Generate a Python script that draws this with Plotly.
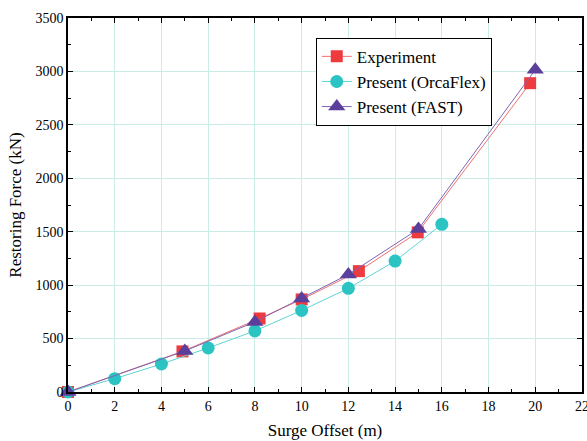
import plotly.graph_objects as go

exp_x = [0, 4.9, 8.2, 10.0, 12.45, 14.97, 19.78]
exp_y = [0, 380, 688, 866, 1131, 1494, 2890]

orca_x = [0, 2, 4, 6, 8, 10, 12, 14, 16]
orca_y = [0, 125, 262, 412, 572, 763, 970, 1225, 1569]

fast_x = [0, 5, 8, 10, 12, 15, 20]
fast_y = [0, 384, 656, 875, 1100, 1525, 3015]

red = "#ee3b3f"
teal = "#2cc3c3"
purple = "#5a3f9c"

fig = go.Figure()
fig.add_trace(go.Scatter(x=exp_x, y=exp_y, name="Experiment", mode="lines+markers",
                         line=dict(color="#f07070", width=1),
                         marker=dict(symbol="square", size=12, color=red),
                         cliponaxis=False))
fig.add_trace(go.Scatter(x=orca_x, y=orca_y, name="Present (OrcaFlex)", mode="lines+markers",
                         line=dict(color="#5fd3d3", width=1),
                         marker=dict(symbol="circle", size=13, color=teal),
                         cliponaxis=False))
fig.add_trace(go.Scatter(x=fast_x, y=fast_y, name="Present (FAST)", mode="lines+markers",
                         line=dict(color="#7d66b4", width=1),
                         marker=dict(symbol="triangle-up", size=15, color=purple),
                         cliponaxis=False))

font_family = "Liberation Serif"
axis_common = dict(
    showline=True, linecolor="black", linewidth=1.5, mirror="allticks",
    ticks="inside", ticklen=5, tickwidth=1.2, tickcolor="black",
    showgrid=True, gridcolor="#c9ece6", gridwidth=1, zeroline=False,
    tickfont=dict(family=font_family, size=14, color="black"),
    automargin=False, ticklabeloverflow="allow",
)
fig.update_xaxes(range=[0, 22], dtick=2, tick0=0,
                 minor=dict(dtick=1, ticks="inside", ticklen=3, tickcolor="black", showgrid=False),
                 title=dict(text="Surge Offset (m)", font=dict(family=font_family, size=17, color="black"), standoff=12),
                 **axis_common)
fig.update_yaxes(range=[0, 3500], dtick=500, tick0=0,
                 minor=dict(dtick=250, ticks="inside", ticklen=3, tickcolor="black", showgrid=False),
                 title=dict(text="Restoring Force (kN)", font=dict(family=font_family, size=17, color="black"), standoff=10),
                 **axis_common)

fig.update_layout(
    width=587, height=441,
    margin=dict(l=68, r=5, t=18, b=49),
    plot_bgcolor="white", paper_bgcolor="white",
    legend=dict(x=0.482, y=0.947, xanchor="left", yanchor="top",
                bgcolor="white", bordercolor="black", borderwidth=1,
                font=dict(family=font_family, size=17, color="black"),
                tracegroupgap=0, itemwidth=30),
    showlegend=True,
)

fig.write_html("out.html")
